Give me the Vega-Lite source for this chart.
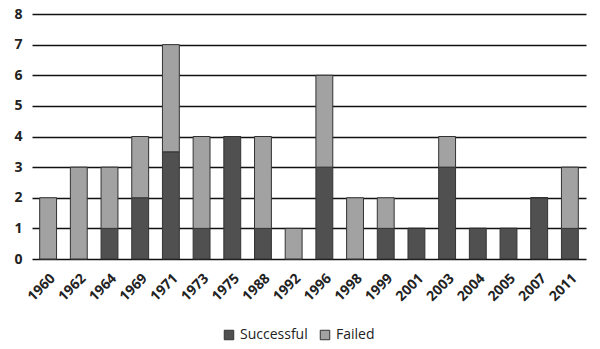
{
  "$schema": "https://vega.github.io/schema/vega-lite/v6.json",
  "width": 554,
  "height": 245,
  "autosize": {"type": "none"},
  "padding": {"left": 32, "right": 14, "top": 14, "bottom": 90},
  "background": "white",
  "data": {"values": [
    {"year": "1960", "status": "Successful", "n": 0}, {"year": "1960", "status": "Failed", "n": 2},
    {"year": "1962", "status": "Successful", "n": 0}, {"year": "1962", "status": "Failed", "n": 3},
    {"year": "1964", "status": "Successful", "n": 1}, {"year": "1964", "status": "Failed", "n": 2},
    {"year": "1969", "status": "Successful", "n": 2}, {"year": "1969", "status": "Failed", "n": 2},
    {"year": "1971", "status": "Successful", "n": 3.5}, {"year": "1971", "status": "Failed", "n": 3.5},
    {"year": "1973", "status": "Successful", "n": 1}, {"year": "1973", "status": "Failed", "n": 3},
    {"year": "1975", "status": "Successful", "n": 4}, {"year": "1975", "status": "Failed", "n": 0},
    {"year": "1988", "status": "Successful", "n": 1}, {"year": "1988", "status": "Failed", "n": 3},
    {"year": "1992", "status": "Successful", "n": 0}, {"year": "1992", "status": "Failed", "n": 1},
    {"year": "1996", "status": "Successful", "n": 3}, {"year": "1996", "status": "Failed", "n": 3},
    {"year": "1998", "status": "Successful", "n": 0}, {"year": "1998", "status": "Failed", "n": 2},
    {"year": "1999", "status": "Successful", "n": 1}, {"year": "1999", "status": "Failed", "n": 1},
    {"year": "2001", "status": "Successful", "n": 1}, {"year": "2001", "status": "Failed", "n": 0},
    {"year": "2003", "status": "Successful", "n": 3}, {"year": "2003", "status": "Failed", "n": 1},
    {"year": "2004", "status": "Successful", "n": 1}, {"year": "2004", "status": "Failed", "n": 0},
    {"year": "2005", "status": "Successful", "n": 1}, {"year": "2005", "status": "Failed", "n": 0},
    {"year": "2007", "status": "Successful", "n": 2}, {"year": "2007", "status": "Failed", "n": 0},
    {"year": "2011", "status": "Successful", "n": 1}, {"year": "2011", "status": "Failed", "n": 2}
  ]},
  "transform": [{"calculate": "datum.status === 'Successful' ? 0 : 1", "as": "ord"}],
  "mark": {"type": "bar", "stroke": "#333333", "strokeWidth": 1},
  "encoding": {
    "x": {
      "field": "year", "type": "nominal",
      "scale": {"paddingInner": 0.45, "paddingOuter": 0.25},
      "axis": {"title": null, "labelAngle": -45, "labelFont": "Open Sans", "labelFontSize": 14, "labelFontWeight": "bold", "labelColor": "#222222", "domain": false, "ticks": false, "labelPadding": 12}
    },
    "y": {
      "field": "n", "type": "quantitative", "stack": "zero",
      "scale": {"domain": [0, 8], "nice": false},
      "axis": {"title": null, "values": [0, 1, 2, 3, 4, 5, 6, 7, 8], "labelOverlap": false, "gridColor": "#111111", "gridOpacity": 1, "gridWidth": 1.5, "domain": false, "ticks": false, "labelFont": "Open Sans", "labelFontSize": 14, "labelFontWeight": "bold", "labelColor": "#222222", "labelPadding": 10}
    },
    "color": {
      "field": "status", "type": "nominal",
      "scale": {"domain": ["Successful", "Failed"], "range": ["#505050", "#a2a2a2"]},
      "legend": {"orient": "none", "legendX": 190, "legendY": 314, "direction": "horizontal", "title": null, "symbolType": "square", "symbolStrokeColor": "#333333", "symbolStrokeWidth": 1, "symbolSize": 90, "labelFont": "Open Sans", "labelFontSize": 14, "labelColor": "#222222", "columnPadding": 10}
    },
    "order": {"field": "ord", "type": "quantitative"}
  },
  "config": {"view": {"stroke": null}}
}
